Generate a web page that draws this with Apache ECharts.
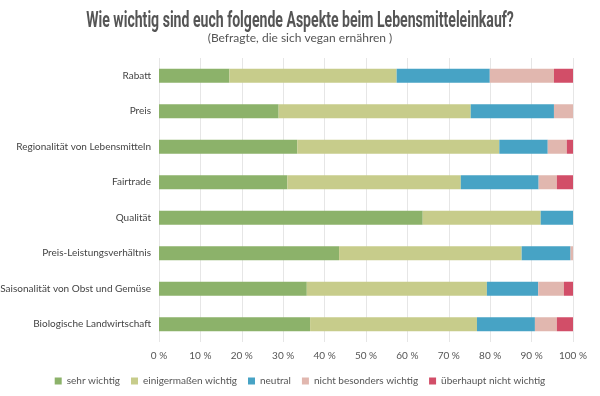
<!DOCTYPE html>
<html>
<head>
<meta charset="utf-8">
<script src="https://cdn.jsdelivr.net/npm/echarts@6/dist/echarts.min.js"></script>
<style>
  html, body { margin: 0; padding: 0; background: #fff; }
  #chart { width: 600px; height: 396px; }
</style>
</head>
<body>
<div id="chart"></div>
<script>
// Aspekte (von oben nach unten)
var categories = [
  "Rabatt",
  "Preis",
  "Regionalität von Lebensmitteln",
  "Fairtrade",
  "Qualität",
  "Preis-Leistungsverhältnis",
  "Saisonalität von Obst und Gemüse",
  "Biologische Landwirtschaft"
];

// Anteile in %
var sehrWichtig        = [17.0, 28.9, 33.4, 31.0, 63.7, 43.5, 35.7, 36.5];
var einigermassen      = [40.4, 46.4, 48.8, 41.9, 28.5, 44.1, 43.5, 40.3];
var neutral            = [22.5, 20.1, 11.7, 18.8,  7.8, 11.8, 12.4, 14.0];
var nichtBesonders     = [15.5,  4.6,  4.6,  4.4,  0.0,  0.6,  6.2,  5.3];
var ueberhauptNicht    = [ 4.6,  0.0,  1.5,  3.9,  0.0,  0.0,  2.2,  3.9];

var seriesNames = ["sehr wichtig", "einigermaßen wichtig", "neutral", "nicht besonders wichtig", "überhaupt nicht wichtig"];
var seriesData = [sehrWichtig, einigermassen, neutral, nichtBesonders, ueberhauptNicht];
var colors = ["#8cb26a", "#c7cc8b", "#47a3c5", "#e1b7af", "#d24e68"];

var labelFont = "Lato, 'Open Sans', sans-serif";

var chart = echarts.init(document.getElementById("chart"));
var option = {
  animation: false,
  color: colors,
  // Haupttitel: schmal gestauchte Schrift
  graphic: [{
    type: "text",
    x: 300,
    y: 10,
    scaleX: 0.64,
    style: {
      text: "Wie wichtig sind euch folgende Aspekte beim Lebensmitteleinkauf?",
      font: "bold 22px Roboto, sans-serif",
      fill: "#555",
      textAlign: "center",
      textVerticalAlign: "top"
    }
  }],
  title: {
    text: "(Befragte, die sich vegan ernähren )",
    left: "center",
    top: 27,
    textStyle: {
      fontFamily: labelFont,
      fontWeight: "normal",
      fontSize: 12,
      color: "#555"
    }
  },
  legend: {
    bottom: 5,
    left: "center",
    icon: "rect",
    itemWidth: 7,
    itemHeight: 7,
    itemGap: 11,
    textStyle: { fontFamily: labelFont, fontSize: 10, color: "#555" },
    data: seriesNames
  },
  grid: {
    left: 159,
    right: 27,
    top: 58,
    bottom: 54,
    outerBoundsMode: "none"
  },
  xAxis: {
    type: "value",
    min: 0,
    max: 100,
    interval: 10,
    axisLine: { show: false },
    axisTick: { show: false },
    axisLabel: {
      formatter: "{value} %",
      fontFamily: labelFont,
      fontSize: 10,
      color: "#555",
      margin: 9
    },
    splitLine: { lineStyle: { color: "#e6e6e6" } }
  },
  yAxis: {
    type: "category",
    inverse: true,
    data: categories,
    axisLine: { show: false },
    axisTick: { show: false },
    axisLabel: {
      fontFamily: labelFont,
      fontSize: 10,
      color: "#444",
      margin: 8
    }
  },
  series: seriesData.map(function (d, i) {
    return {
      name: seriesNames[i],
      type: "bar",
      stack: "total",
      barWidth: 14,
      data: d
    };
  })
};
chart.setOption(option);
</script>
</body>
</html>
